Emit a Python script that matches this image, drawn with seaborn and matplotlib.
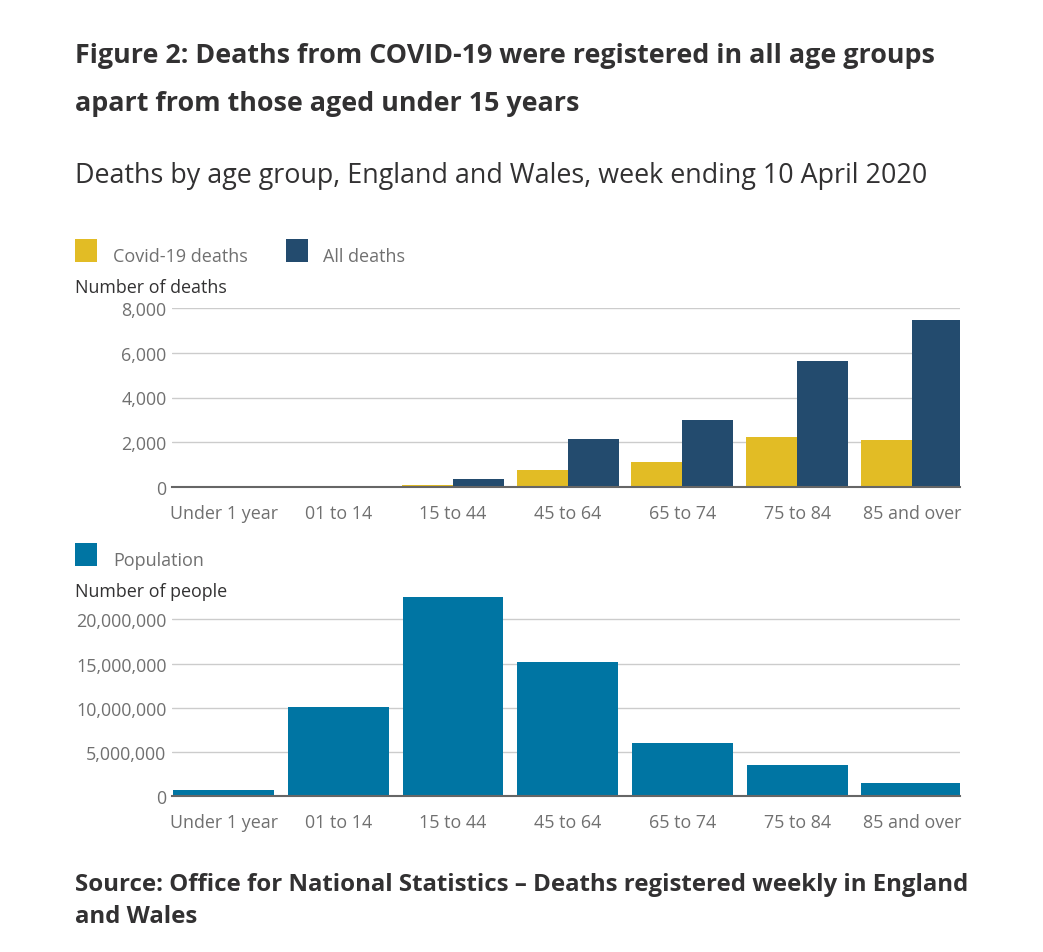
import matplotlib
matplotlib.use("Agg")
import matplotlib.pyplot as plt
import matplotlib.patches as mpatches
import matplotlib.ticker as mticker
import numpy as np
import pandas as pd
import seaborn as sns

sns.set_theme(style="white")
plt.rcParams["font.family"] = ["Open Sans", "DejaVu Sans"]

# %% data
age_groups = ["Under 1 year", "01 to 14", "15 to 44", "45 to 64", "65 to 74", "75 to 84", "85 and over"]
covid_deaths = [0, 0, 104, 770, 1126, 2237, 2104]
all_deaths = [44, 20, 370, 2133, 2978, 5644, 7481]
population = [720000, 10040000, 22530000, 15210000, 5960000, 3510000, 1470000]

COVID = "#E2BC25"
ALL = "#234B6E"
POP = "#0075A3"
DARK = "#323132"
GREY = "#707070"

deaths = pd.DataFrame({
    "age": age_groups * 2,
    "series": ["Covid-19 deaths"] * 7 + ["All deaths"] * 7,
    "value": covid_deaths + all_deaths,
})
pop = pd.DataFrame({"age": age_groups, "value": population})

W, H = 1043, 953
fig = plt.figure(figsize=(W / 100, H / 100), dpi=100)


def fx(px):
    return px / W


def fy(py):
    return 1 - py / H


def style_axis(ax):
    sns.despine(ax=ax, left=True, top=True, right=True)
    ax.spines["bottom"].set_color("#666666")
    ax.spines["bottom"].set_linewidth(1.5)
    ax.grid(axis="y", color="#cccccc", linewidth=1)
    ax.set_axisbelow(True)
    ax.set_xlim(-0.45, 6.42)
    ax.set_xlabel("")
    ax.set_ylabel("")
    ax.tick_params(axis="y", length=0, labelsize=12.9, labelcolor=GREY, pad=4)
    ax.tick_params(axis="x", length=8, width=1, color="#cccccc", labelsize=12.9,
                   labelcolor=GREY, pad=4, direction="out")
    ax.set_xticks([-0.45], minor=True)
    ax.tick_params(axis="x", which="minor", length=8, width=1.2, color="#666666")
    ax.yaxis.set_major_formatter(mticker.FuncFormatter(lambda v, p: f"{v:,.0f}"))


# %% top chart
ax1 = fig.add_axes([fx(172), fy(488), fx(960 - 172), (488 - 309) / H])
sns.barplot(data=deaths, x="age", y="value", hue="series",
            palette={"Covid-19 deaths": COVID, "All deaths": ALL}, saturation=1,
            width=0.89, gap=0, linewidth=0, legend=False, ax=ax1)
ax1.set_ylim(0, 8000)
ax1.set_yticks([0, 2000, 4000, 6000, 8000])
style_axis(ax1)

# %% bottom chart
ax2 = fig.add_axes([fx(172), fy(797), fx(960 - 172), (797 - 597) / H])
sns.barplot(data=pop, x="age", y="value", color=POP, saturation=1,
            width=0.88, linewidth=0, ax=ax2)
ax2.set_ylim(0, 22650000)
ax2.set_yticks([0, 5000000, 10000000, 15000000, 20000000])
style_axis(ax2)

# %% text
fig.text(fx(75), fy(63), "Figure 2: Deaths from COVID-19 were registered in all age groups",
         fontsize=19.4, fontweight="bold", color=DARK, va="baseline")
fig.text(fx(75), fy(111), "apart from those aged under 15 years",
         fontsize=19.4, fontweight="bold", color=DARK, va="baseline")
fig.text(fx(75), fy(183), "Deaths by age group, England and Wales, week ending 10 April 2020",
         fontsize=19.4, color=DARK, va="baseline")

# legends
for x0, colr, label, x_text in [(75, COVID, "Covid-19 deaths", 113), (286, ALL, "All deaths", 323)]:
    fig.add_artist(mpatches.Rectangle((fx(x0), fy(263)), fx(22), 23 / H,
                                      transform=fig.transFigure, color=colr, lw=0))
    fig.text(fx(x_text), fy(262), label, fontsize=13, color=GREY, va="baseline")
fig.text(fx(75), fy(293), "Number of deaths", fontsize=12.9, color=DARK, va="baseline")

fig.add_artist(mpatches.Rectangle((fx(75), fy(567)), fx(22), 23 / H,
                                  transform=fig.transFigure, color=POP, lw=0))
fig.text(fx(113), fy(566), "Population", fontsize=13, color=GREY, va="baseline")
fig.text(fx(75), fy(597), "Number of people", fontsize=12.9, color=DARK, va="baseline")

fig.text(fx(75), fy(891), "Source: Office for National Statistics \u2013 Deaths registered weekly in England",
         fontsize=17.3, fontweight="bold", color=DARK, va="baseline")
fig.text(fx(75), fy(923), "and Wales", fontsize=17.3, fontweight="bold", color=DARK, va="baseline")

fig.savefig("out.png", dpi=100, facecolor="white")
